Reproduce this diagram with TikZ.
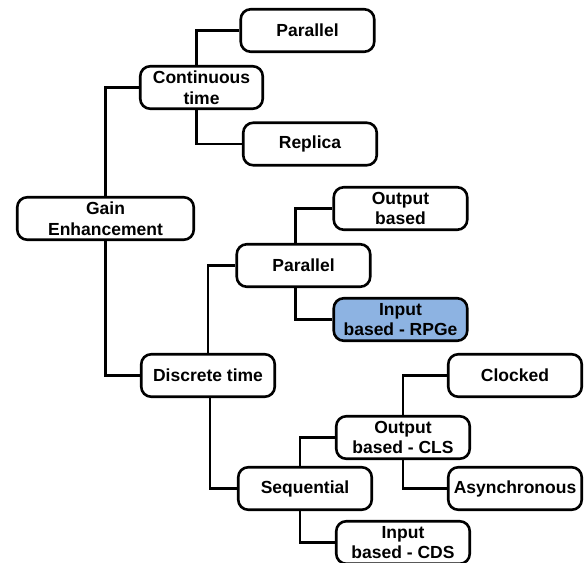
\documentclass[tikz,border=0pt]{standalone}
\usepackage{fontspec}
\setmainfont{Liberation Sans}
\definecolor{boxblue}{HTML}{8DB3E2}
\begin{document}
\begin{tikzpicture}[x=1pt,y=-1pt,
  box/.style={draw=black, line width=2.6pt, rounded corners=10pt, fill=white,
    minimum width=133.5pt, minimum height=42.5pt, inner sep=0pt, align=center,
    font=\bfseries\fontsize{17.5}{20.5}\selectfont},
  link/.style={draw=black, line width=2.6pt}]
\useasboundingbox (0,0) rectangle (585,562);
\clip (0,0) rectangle (585,562);
\node[box] (P1) at (307.5,30.5) {Parallel};
\node[box, minimum width=122.5pt] (CT) at (201.5,87.5) {Continuous\\time};
\node[box] (R) at (310,144) {Replica};
\node[box, minimum width=176.5pt] (GE) at (105.5,218.5) {Gain\\Enhancement};
\node[box] (OB) at (400.5,208.5) {Output\\based};
\node[box] (P2) at (303.5,265.5) {Parallel};
\node[box, fill=boxblue] (IB) at (400.5,319.5) {Input\\based - RPGe};
\node[box] (DT) at (208,375.5) {Discrete time};
\node[box] (CL) at (515,375.5) {Clocked};
\node[box] (OC) at (403,437.5) {Output\\based - CLS};
\node[box] (SQ) at (305,488.5) {Sequential};
\node[box] (AS) at (515,488.5) {Asynchronous};
\node[box] (IC) at (403,542.5) {Input\\based - CDS};
\path[link] (GE.north) |- (CT.west);
\path[link] (GE.south) |- (DT.west);
\path[link] ([xshift=-5pt]CT.north) |- (P1.west);
\path[link] ([xshift=-5pt]CT.south) |- (R.west);
\path[link] (DT.north) |- (P2.west);
\path[link] ([xshift=2pt]DT.south) |- (SQ.west);
\path[link] ([xshift=-8pt]P2.north) |- (OB.west);
\path[link] ([xshift=-8pt]P2.south) |- (IB.west);
\path[link] ([xshift=-5pt]SQ.north) |- (OC.west);
\path[link] ([xshift=-5pt]SQ.south) |- (IC.west);
\path[link] (OC.north) |- (CL.west);
\path[link] (OC.south) |- (AS.west);
\end{tikzpicture}
\end{document}
